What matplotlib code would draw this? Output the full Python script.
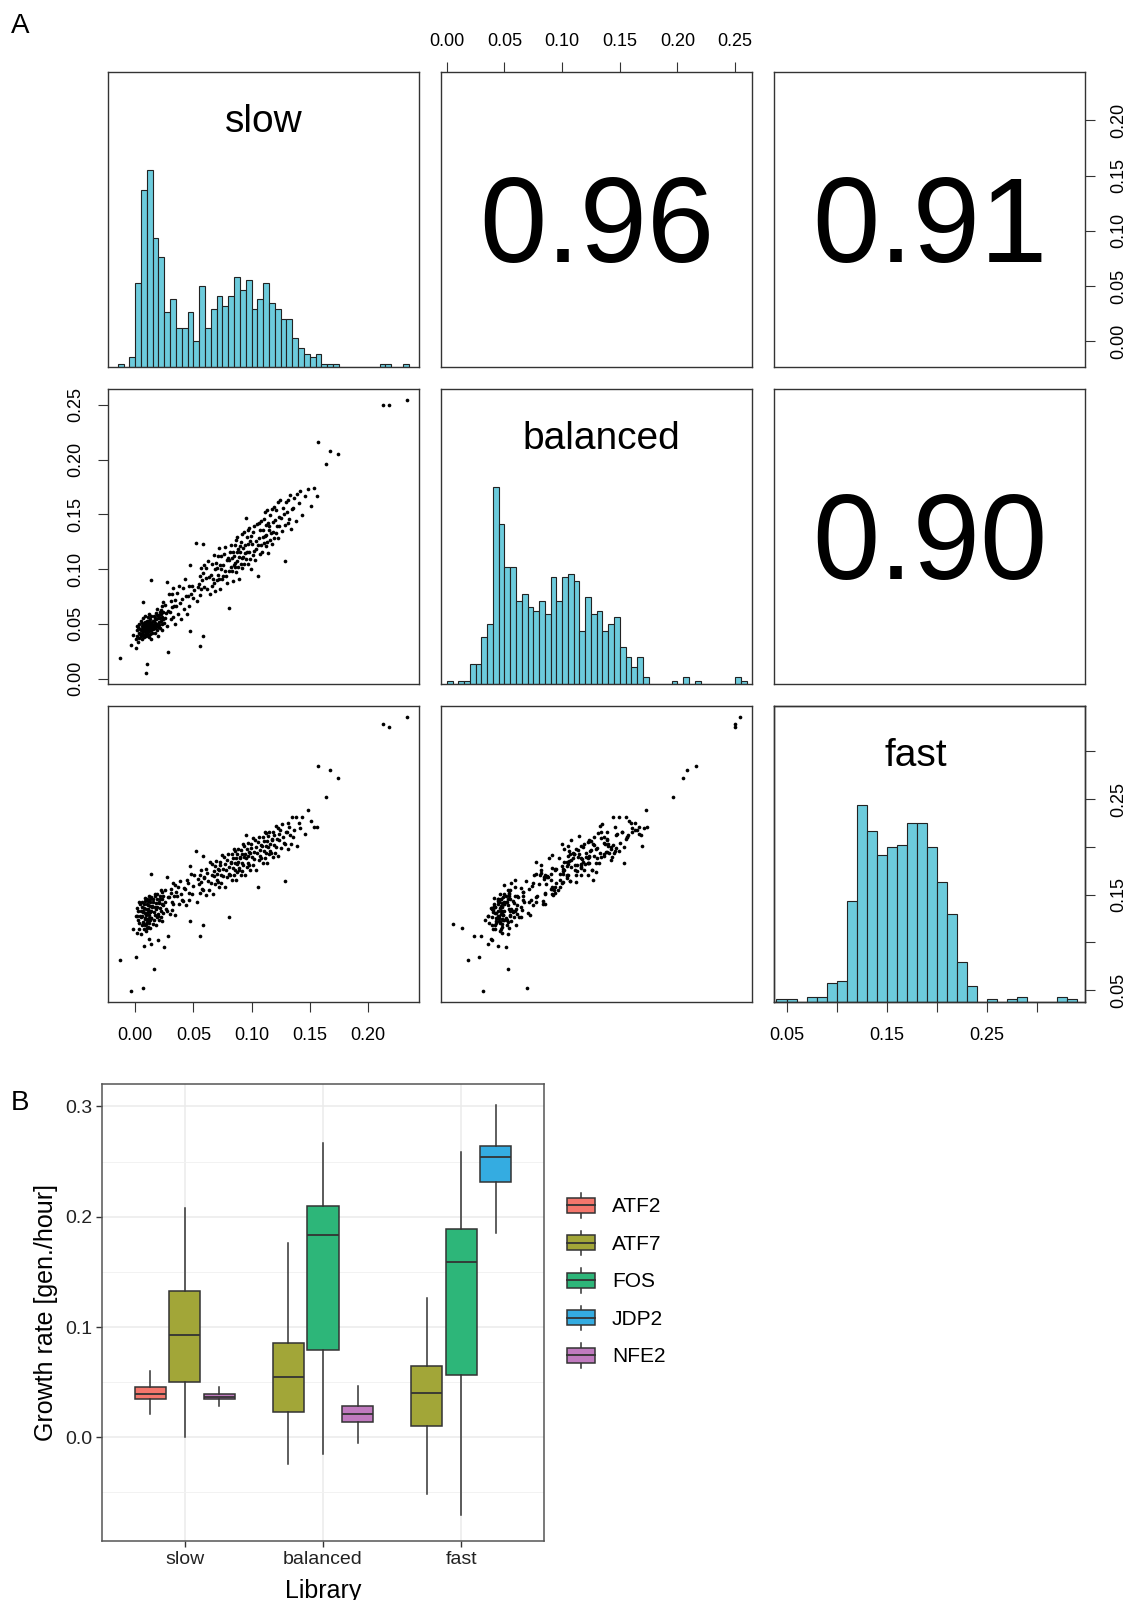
import numpy as np
import matplotlib
matplotlib.use('Agg')
import matplotlib.pyplot as plt
from matplotlib.legend_handler import HandlerBase
from matplotlib.patches import Rectangle, Patch
from matplotlib.lines import Line2D

plt.rcParams['font.family'] = ['Liberation Sans', 'DejaVu Sans']

# ---------------- panel A: pairs plot ----------------
libraries = ['slow', 'balanced', 'fast']
corr_pairs = [(0, 1), (0, 2), (1, 2)]
corr_labels = ['0.96', '0.91', '0.90']

# growth rate of each variant in the three libraries
slow_rate = [
    -0.0135, -0.0035, -0.0018,
    0.0004, 0.0010, 0.0013, 0.0016, 0.0018, 0.0022, 0.0025, 0.0029, 0.0033, 0.0036, 0.0040, 0.0044, 0.0047,
    0.0051, 0.0053, 0.0056, 0.0058, 0.0060, 0.0062, 0.0064, 0.0066, 0.0068, 0.0070, 0.0071, 0.0073, 0.0075, 0.0076,
    0.0078, 0.0080, 0.0082, 0.0083, 0.0085, 0.0087, 0.0088, 0.0090, 0.0092, 0.0093, 0.0095, 0.0097, 0.0099,
    0.0100, 0.0101, 0.0103, 0.0104, 0.0106, 0.0107, 0.0109, 0.0110, 0.0112, 0.0113, 0.0115, 0.0116, 0.0118, 0.0119, 0.0121,
    0.0122, 0.0124, 0.0125, 0.0127, 0.0128, 0.0130, 0.0131, 0.0133, 0.0134, 0.0136, 0.0137, 0.0138, 0.0139, 0.0141, 0.0146,
    0.0150, 0.0153, 0.0155, 0.0158, 0.0160, 0.0164, 0.0166, 0.0168, 0.0171, 0.0173,
    0.0176, 0.0178, 0.0180, 0.0183, 0.0185, 0.0187, 0.0190, 0.0192, 0.0195, 0.0198,
    0.0201, 0.0204, 0.0207, 0.0210, 0.0212, 0.0215, 0.0218, 0.0220, 0.0223, 0.0226, 0.0229, 0.0231, 0.0234, 0.0237,
    0.0240, 0.0243, 0.0246,
    0.0252, 0.0258, 0.0263, 0.0269, 0.0274, 0.0280, 0.0284, 0.0293,
    0.0302, 0.0306, 0.0311, 0.0315, 0.0319, 0.0324, 0.0328, 0.0333, 0.0338, 0.0344,
    0.0353, 0.0360, 0.0368, 0.0375, 0.0384, 0.0392,
    0.0403, 0.0411, 0.0419, 0.0426, 0.0435, 0.0444,
    0.0452, 0.0458, 0.0464, 0.0470, 0.0474, 0.0476, 0.0489, 0.0496,
    0.0503, 0.0519, 0.0527, 0.0540,
    0.0551, 0.0553, 0.0555, 0.0559, 0.0563, 0.0567, 0.0575, 0.0579, 0.0583, 0.0584, 0.0587, 0.0592,
    0.0604, 0.0611, 0.0619, 0.0626, 0.0634, 0.0643,
    0.0652, 0.0657, 0.0662, 0.0667, 0.0673, 0.0678, 0.0684, 0.0689, 0.0695,
    0.0702, 0.0706, 0.0710, 0.0714, 0.0719, 0.0723, 0.0727, 0.0731, 0.0736, 0.0740, 0.0745,
    0.0753, 0.0758, 0.0763, 0.0768, 0.0774, 0.0779, 0.0785, 0.0790, 0.0796,
    0.0802, 0.0806, 0.0810, 0.0814, 0.0819, 0.0823, 0.0828, 0.0832, 0.0837, 0.0841, 0.0846,
    0.0851, 0.0854, 0.0858, 0.0861, 0.0865, 0.0868, 0.0872, 0.0875, 0.0879, 0.0882, 0.0886, 0.0889, 0.0893, 0.0897,
    0.0902, 0.0906, 0.0910, 0.0914, 0.0918, 0.0922, 0.0926, 0.0930, 0.0934, 0.0938, 0.0942, 0.0946,
    0.0951, 0.0954, 0.0958, 0.0961, 0.0965, 0.0969, 0.0973, 0.0976, 0.0980, 0.0984, 0.0988, 0.0992, 0.0996,
    0.1003, 0.1008, 0.1013, 0.1018, 0.1023, 0.1029, 0.1034, 0.1039, 0.1045,
    0.1052, 0.1056, 0.1061, 0.1065, 0.1070, 0.1075, 0.1080, 0.1085, 0.1090, 0.1096,
    0.1102, 0.1105, 0.1109, 0.1113, 0.1116, 0.1120, 0.1124, 0.1127, 0.1131, 0.1135, 0.1139, 0.1143, 0.1147,
    0.1152, 0.1157, 0.1162, 0.1167, 0.1172, 0.1177, 0.1182, 0.1187, 0.1192, 0.1197,
    0.1203, 0.1208, 0.1213, 0.1218, 0.1223, 0.1229, 0.1234, 0.1239, 0.1245,
    0.1253, 0.1260, 0.1267, 0.1281, 0.1287, 0.1288, 0.1295,
    0.1303, 0.1310, 0.1317, 0.1324, 0.1331, 0.1338, 0.1345,
    0.1354, 0.1366, 0.1378, 0.1391,
    0.1405, 0.1420, 0.1436,
    0.1458, 0.1485,
    0.1510, 0.1535,
    0.1562, 0.1570, 0.1640, 0.1670, 0.1740,
    0.2130, 0.2180, 0.2340,
]
balanced_rate = [
    0.0185, 0.031, 0.040,
    0.036, 0.028, 0.044, 0.048, 0.039, 0.047, 0.033, 0.042, 0.050, 0.037, 0.045, 0.041, 0.053,
    0.044, 0.039, 0.048, 0.042, 0.051, 0.036, 0.046, 0.043, 0.055, 0.0697, 0.040, 0.047, 0.044, 0.050,
    0.038, 0.045, 0.052, 0.041, 0.048, 0.043, 0.057, 0.046, 0.039, 0.049, 0.005, 0.044, 0.053,
    0.0135, 0.047, 0.042, 0.051, 0.045, 0.056, 0.040, 0.048, 0.044, 0.053, 0.038, 0.049, 0.046, 0.059, 0.043,
    0.050, 0.047, 0.054, 0.041, 0.048, 0.045, 0.052, 0.036, 0.049, 0.057, 0.044, 0.090, 0.051, 0.047, 0.042,
    0.048, 0.053, 0.045, 0.057, 0.050, 0.053, 0.046, 0.055, 0.042, 0.051,
    0.060, 0.048, 0.054, 0.044, 0.058, 0.050, 0.064, 0.047, 0.055, 0.039,
    0.052, 0.058, 0.049, 0.061, 0.055, 0.046, 0.063, 0.053, 0.059, 0.050, 0.066, 0.056, 0.044, 0.061,
    0.054, 0.070, 0.051,
    0.055, 0.067, 0.060, 0.048, 0.088, 0.062, 0.024, 0.077,
    0.061, 0.071, 0.054, 0.077, 0.065, 0.056, 0.083, 0.066, 0.050, 0.072,
    0.066, 0.078, 0.059, 0.085, 0.069, 0.054,
    0.073, 0.083, 0.064, 0.091, 0.075, 0.059,
    0.075, 0.085, 0.066, 0.104, 0.043, 0.077, 0.085, 0.074,
    0.081, 0.124, 0.071, 0.084,
    0.086, 0.030, 0.076, 0.094, 0.082, 0.101, 0.090, 0.123, 0.096, 0.039, 0.084, 0.104,
    0.092, 0.101, 0.082, 0.107, 0.093, 0.077,
    0.095, 0.085, 0.105, 0.091, 0.113, 0.087, 0.100, 0.080, 0.106,
    0.101, 0.090, 0.112, 0.095, 0.119, 0.091, 0.104, 0.082, 0.112, 0.100, 0.091,
    0.104, 0.094, 0.114, 0.098, 0.120, 0.094, 0.108, 0.087, 0.110,
    0.108, 0.098, 0.0645, 0.116, 0.102, 0.122, 0.098, 0.110, 0.089, 0.116, 0.104,
    0.112, 0.102, 0.122, 0.106, 0.127, 0.097, 0.116, 0.107, 0.129, 0.102, 0.118, 0.091, 0.111, 0.121,
    0.116, 0.105, 0.125, 0.110, 0.132, 0.101, 0.119, 0.111, 0.134, 0.105, 0.122, 0.115,
    0.147, 0.109, 0.129, 0.116, 0.136, 0.105, 0.123, 0.116, 0.138, 0.109, 0.126, 0.100, 0.130,
    0.123, 0.113, 0.134, 0.117, 0.139, 0.108, 0.126, 0.118, 0.141,
    0.094, 0.122, 0.142, 0.128, 0.114, 0.136, 0.122, 0.144, 0.116, 0.129,
    0.136, 0.124, 0.146, 0.130, 0.152, 0.121, 0.140, 0.131, 0.154, 0.125, 0.142, 0.115, 0.136,
    0.139, 0.127, 0.149, 0.133, 0.155, 0.123, 0.143, 0.134, 0.157, 0.128,
    0.145, 0.133, 0.154, 0.139, 0.161, 0.128, 0.148, 0.139, 0.163,
    0.147, 0.135, 0.156, 0.150, 0.107, 0.140, 0.161,
    0.152, 0.142, 0.163, 0.146, 0.168, 0.137, 0.155,
    0.156, 0.165, 0.144, 0.169,
    0.160, 0.171, 0.149,
    0.167, 0.173,
    0.158, 0.174,
    0.167, 0.216, 0.196, 0.208, 0.205,
    0.250, 0.250, 0.2546,
]
fast_rate = [
    0.082, 0.049, 0.114,
    0.128, 0.085, 0.128, 0.110, 0.136, 0.133, 0.123, 0.114, 0.142, 0.120, 0.128, 0.140, 0.109,
    0.133, 0.127, 0.137, 0.118, 0.142, 0.128, 0.121, 0.120, 0.133, 0.0525, 0.132, 0.114, 0.096, 0.140,
    0.136, 0.126, 0.118, 0.146, 0.124, 0.131, 0.143, 0.112, 0.135, 0.129, 0.119, 0.140, 0.121,
    0.115, 0.145, 0.131, 0.124, 0.122, 0.135, 0.134, 0.116, 0.143, 0.139, 0.104, 0.129, 0.120, 0.148, 0.126,
    0.133, 0.145, 0.115, 0.138, 0.132, 0.142, 0.123, 0.098, 0.147, 0.133, 0.126, 0.172, 0.125, 0.138, 0.137,
    0.119, 0.145, 0.142, 0.132, 0.123, 0.072, 0.151, 0.129, 0.137, 0.149,
    0.118, 0.141, 0.135, 0.145, 0.127, 0.151, 0.137, 0.130, 0.128, 0.102,
    0.142, 0.141, 0.123, 0.149, 0.145, 0.136, 0.127, 0.155, 0.133, 0.140, 0.153, 0.122, 0.145, 0.139,
    0.149, 0.131, 0.095,
    0.155, 0.142, 0.135, 0.133, 0.168, 0.147, 0.107, 0.147,
    0.130, 0.156, 0.152, 0.142, 0.134, 0.162, 0.140, 0.148, 0.160, 0.129,
    0.153, 0.148, 0.158, 0.140, 0.164, 0.151,
    0.144, 0.143, 0.157, 0.156, 0.139, 0.165,
    0.162, 0.152, 0.144, 0.180, 0.122, 0.172, 0.151, 0.159,
    0.171, 0.196, 0.142, 0.166,
    0.161, 0.107, 0.171, 0.152, 0.176, 0.163, 0.156, 0.190, 0.155, 0.118, 0.168, 0.167,
    0.150, 0.177, 0.173, 0.164, 0.155, 0.184,
    0.162, 0.170, 0.182, 0.151, 0.175, 0.169, 0.180, 0.161, 0.185,
    0.172, 0.165, 0.163, 0.177, 0.176, 0.158, 0.184, 0.181, 0.171, 0.162, 0.191,
    0.169, 0.177, 0.189, 0.158, 0.182, 0.176, 0.186, 0.168, 0.192,
    0.179, 0.172, 0.127, 0.170, 0.184, 0.183, 0.165, 0.192, 0.188, 0.178, 0.170,
    0.198, 0.176, 0.183, 0.196, 0.165, 0.188, 0.182, 0.193, 0.174, 0.198, 0.184, 0.178, 0.176, 0.189,
    0.188, 0.171, 0.197, 0.193, 0.183, 0.175, 0.203, 0.181, 0.189, 0.201, 0.170, 0.193,
    0.212, 0.188, 0.198, 0.179, 0.204, 0.190, 0.183, 0.181, 0.195, 0.194, 0.176, 0.203, 0.199,
    0.189, 0.181, 0.209, 0.187, 0.195, 0.207, 0.176, 0.200, 0.194,
    0.158, 0.205, 0.186, 0.210, 0.197, 0.190, 0.188, 0.202, 0.201, 0.183,
    0.210, 0.206, 0.196, 0.188, 0.216, 0.194, 0.201, 0.214, 0.183, 0.206, 0.200, 0.211, 0.192,
    0.216, 0.203, 0.196, 0.194, 0.208, 0.207, 0.189, 0.216, 0.212, 0.202,
    0.194, 0.222, 0.200, 0.208, 0.220, 0.190, 0.213, 0.207, 0.218,
    0.199, 0.224, 0.210, 0.204, 0.164, 0.203, 0.216,
    0.216, 0.198, 0.225, 0.221, 0.212, 0.203, 0.231,
    0.210, 0.218, 0.231, 0.201,
    0.225, 0.220, 0.231,
    0.213, 0.239,
    0.227, 0.221,
    0.221, 0.2846, 0.252, 0.280, 0.2716,
    0.329, 0.326, 0.336,
]

# histogram counts on the diagonal (first bin start, bin width, counts)
slow_hist_start, slow_hist_width = -0.015, 0.005
slow_hist_counts = [1, 0, 3, 26, 55, 61, 40, 34, 17, 21, 12, 12, 17, 8, 25, 12, 18, 22, 19, 22,
                    28, 24, 27, 18, 21, 26, 20, 18, 15, 15, 9, 6, 4, 3, 4, 1, 1, 1,
                    0, 0, 0, 0, 0, 0, 0, 1, 1, 0, 0, 1]
balanced_hist_start, balanced_hist_width = 0.0, 0.005
balanced_hist_counts = [1, 0, 1, 1, 6, 6, 14, 18, 59, 48, 35, 35, 25, 27, 23, 22, 25, 21, 32, 25,
                        32, 33, 31, 16, 26, 21, 22, 16, 18, 20, 11, 8, 5, 8, 2,
                        0, 0, 0, 0, 1, 0, 2, 0, 1, 0, 0, 0, 0, 0, 0, 2, 1]
fast_hist_start, fast_hist_width = 0.04, 0.01
fast_hist_counts = [1, 1, 0, 2, 2, 7, 8, 38, 74, 64, 55, 58, 59, 67, 67, 58, 45, 33, 15, 6,
                    0, 1, 0, 1, 2, 0, 0, 0, 2, 1]

slow_ticks = [0.00, 0.05, 0.10, 0.15, 0.20]
balanced_ticks = [0.00, 0.05, 0.10, 0.15, 0.20, 0.25]
fast_ticks = [0.05, 0.10, 0.15, 0.20, 0.25, 0.30]
fast_tick_labels = ['0.05', '', '0.15', '', '0.25', '']

# ---------------- panel B: boxplot ----------------
box_library = ['slow', 'slow', 'slow', 'balanced', 'balanced', 'balanced', 'fast', 'fast', 'fast']
box_gene = ['ATF2', 'ATF7', 'NFE2', 'ATF7', 'FOS', 'NFE2', 'ATF7', 'FOS', 'JDP2']
box_whisker_low = [0.0215, 0.0000, 0.0284, -0.0245, -0.0154, -0.0051, -0.0517, -0.0708, 0.1851]
box_q1 = [0.0348, 0.0505, 0.0345, 0.0233, 0.0793, 0.0136, 0.0106, 0.0563, 0.2317]
box_median = [0.0393, 0.0932, 0.0369, 0.0550, 0.1833, 0.0212, 0.0399, 0.1591, 0.2538]
box_q3 = [0.0457, 0.1322, 0.0393, 0.0856, 0.2093, 0.0281, 0.0644, 0.1884, 0.2641]
box_whisker_high = [0.0602, 0.2075, 0.0457, 0.1760, 0.2668, 0.0469, 0.1261, 0.2583, 0.3010]
genes = ['ATF2', 'ATF7', 'FOS', 'JDP2', 'NFE2']
gene_colors = ['#F4766C', '#A2A638', '#2DB679', '#34ACE1', '#C07ABF']

W, H = 1130, 1600
fig = plt.figure(figsize=(W / 100, H / 100), dpi=100)


def add_px_axes(x0, y0, x1, y1):
    return fig.add_axes([x0 / W, 1 - y1 / H, (x1 - x0) / W, (y1 - y0) / H])


cols_px = [(108, 419), (441, 752), (774, 1085)]
rows_px = [(72, 367), (389, 684), (706, 1002)]
label_x = [0.502, 0.516, 0.456]   # where the diagonal names sit in their panels

rates = [np.array(slow_rate), np.array(balanced_rate), np.array(fast_rate)]
lims = []
for r in rates:
    pad = 0.04 * (r.max() - r.min())
    lims.append((r.min() - pad, r.max() + pad))

hists = [(slow_hist_start, slow_hist_width, slow_hist_counts),
         (balanced_hist_start, balanced_hist_width, balanced_hist_counts),
         (fast_hist_start, fast_hist_width, fast_hist_counts)]

frame_c = '#333333'
grid = {}
for i in range(3):
    for j in range(3):
        ax = add_px_axes(cols_px[j][0], rows_px[i][0], cols_px[j][1], rows_px[i][1])
        ax.set_xlim(lims[j])
        ax.set_xticks([])
        ax.set_yticks([])
        for sp in ax.spines.values():
            sp.set_color(frame_c)
            sp.set_linewidth(1.0)
        if i == j:
            start, width, counts = hists[i]
            counts = np.asarray(counts, dtype=float)
            left = start + width * np.arange(len(counts))
            ax.bar(left, counts / counts.max(), width=width, align='edge',
                   color='#6CCBDC', edgecolor='#222222', linewidth=0.8)
            ax.set_ylim(0, 1.5)
            ax.text(label_x[i], 0.83, libraries[i], transform=ax.transAxes,
                    ha='center', va='center', fontsize=28)
        elif i > j:
            ax.scatter(rates[j], rates[i], s=7, c='black', linewidths=0)
            ax.set_ylim(lims[i])
        else:
            ax.set_ylim(lims[i])
            ax.text(0.5, 0.462, corr_labels[corr_pairs.index((i, j))], transform=ax.transAxes,
                    ha='center', va='center', fontsize=87)
        grid[(i, j)] = ax

tick_kw = dict(direction='out', length=7, width=0.8, color=frame_c, labelsize=13)

ax = grid[(0, 1)]
ax.xaxis.tick_top()
ax.set_xticks(balanced_ticks, [f'{t:.2f}' for t in balanced_ticks])
ax.tick_params(axis='x', pad=9, **tick_kw)

ax = grid[(0, 2)]
ax.yaxis.tick_right()
ax.set_yticks(slow_ticks, [f'{t:.2f}' for t in slow_ticks], rotation=90, va='center')
ax.tick_params(axis='y', pad=11, **tick_kw)

ax = grid[(1, 0)]
ax.set_yticks(balanced_ticks, [f'{t:.2f}' for t in balanced_ticks], rotation=90, va='center')
ax.tick_params(axis='y', pad=10, **tick_kw)

ax = grid[(2, 0)]
ax.set_xticks(slow_ticks, [f'{t:.2f}' for t in slow_ticks])
ax.tick_params(axis='x', pad=11, **tick_kw)

ax = grid[(2, 2)]
ax.set_xticks(fast_ticks, fast_tick_labels)
ax.tick_params(axis='x', pad=11, **tick_kw)
# the fast histogram panel carries the fast scale on its right side
ax_r = ax.twinx()
ax_r.set_ylim(lims[2])
ax_r.set_yticks(fast_ticks, fast_tick_labels, rotation=90, va='center')
ax_r.tick_params(axis='y', pad=11, **tick_kw)
for sp in ax_r.spines.values():
    sp.set_color(frame_c)
    sp.set_linewidth(1.0)

fig.text(20 / W, 1 - 26 / H, 'A', fontsize=20, ha='center', va='center')
fig.text(20 / W, 1 - 1103 / H, 'B', fontsize=20, ha='center', va='center')

# ---------------- panel B drawing ----------------
axb = add_px_axes(102, 1084, 544, 1541)
positions = []
for lib, gene in zip(box_library, box_gene):
    members = [g for l, g in zip(box_library, box_gene) if l == lib]
    k = members.index(gene)
    positions.append(libraries.index(lib) + 1 + (k - (len(members) - 1) / 2) * 0.25)

stats = [dict(whislo=lo, q1=a, med=m, q3=b, whishi=hi, fliers=[])
         for lo, a, m, b, hi in zip(box_whisker_low, box_q1, box_median, box_q3, box_whisker_high)]
line_c = '#333333'
bp = axb.bxp(stats, positions=positions, widths=0.225, patch_artist=True,
             showcaps=False, showfliers=False, manage_ticks=False,
             boxprops=dict(edgecolor=line_c, linewidth=1.1),
             medianprops=dict(color=line_c, linewidth=1.3),
             whiskerprops=dict(color=line_c, linewidth=1.1))
for patch, gene in zip(bp['boxes'], box_gene):
    patch.set_facecolor(gene_colors[genes.index(gene)])

axb.set_xlim(0.4, 3.6)
axb.set_ylim(-0.094, 0.3203)
axb.set_xticks([1, 2, 3], libraries)
axb.set_yticks([0.0, 0.1, 0.2, 0.3], ['0.0', '0.1', '0.2', '0.3'])
axb.set_yticks([-0.05, 0.05, 0.15, 0.25], minor=True)
axb.set_axisbelow(True)
axb.grid(True, which='major', color='#EBEBEB', linewidth=1.1)
axb.grid(True, which='minor', axis='y', color='#F2F2F2', linewidth=0.7)
axb.tick_params(which='major', length=4, width=1, color='#333333', labelsize=14,
                labelcolor='#222222', pad=3)
axb.tick_params(which='minor', length=0)
for sp in axb.spines.values():
    sp.set_color('#555555')
    sp.set_linewidth(1.1)
axb.set_ylabel('Growth rate [gen./hour]', fontsize=18, labelpad=5)
axb.set_xlabel('Library', fontsize=18, labelpad=8)


class BoxKeyHandler(HandlerBase):
    def create_artists(self, legend, orig_handle, xdescent, ydescent, width, height, fontsize, trans):
        x0, y0 = -xdescent, -ydescent
        bh = height * 0.6
        by = y0 + (height - bh) / 2
        xm = x0 + width / 2
        lo = Line2D([xm, xm], [y0, by], color=line_c, lw=1.1, transform=trans)
        hi = Line2D([xm, xm], [by + bh, y0 + height], color=line_c, lw=1.1, transform=trans)
        box = Rectangle((x0, by), width, bh, facecolor=orig_handle.get_facecolor(),
                        edgecolor=line_c, lw=1.1, transform=trans)
        med = Line2D([x0, x0 + width], [by + bh / 2] * 2, color=line_c, lw=1.3, transform=trans)
        return [lo, hi, box, med]


handles = [Patch(facecolor=c) for c in gene_colors]
fig.legend(handles, genes, loc='upper left', bbox_to_anchor=(567 / W, 1 - 1193 / H),
           frameon=False, fontsize=15, borderpad=0, borderaxespad=0,
           handlelength=1.35, handleheight=1.44, labelspacing=0.62, handletextpad=0.8,
           handler_map={Patch: BoxKeyHandler()})

fig.savefig('out.png', dpi=100)
